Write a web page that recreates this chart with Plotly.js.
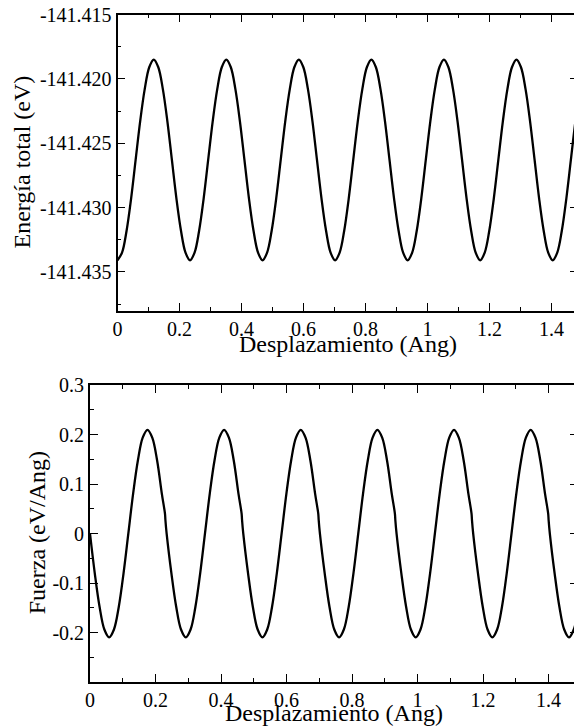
<!DOCTYPE html>
<html>
<head>
<meta charset="utf-8">
<script src="https://cdn.plot.ly/plotly-3.0.1.min.js"></script>
<style>
  html, body { margin: 0; padding: 0; overflow: hidden; background: #fff; }
  #chart { width: 578px; height: 727px; }
  #fontwarm { position: absolute; left: 0; top: 0; visibility: hidden; font-family: 'Liberation Serif'; font-size: 20px; }
</style>
</head>
<body>
<span id="fontwarm">Desplazamiento</span>
<div id="chart"></div>
<script>
// Displacement grid (Ang)
const displacement = [
  0.0000, 0.0146, 0.0293, 0.0439, 0.0585, 0.0731, 0.0878, 0.1024, 0.1170, 0.1316, 0.1463, 0.1609, 0.1755, 0.1901, 0.2048, 0.2194,
  0.2340, 0.2486, 0.2633, 0.2779, 0.2925, 0.3071, 0.3218, 0.3364, 0.3510, 0.3656, 0.3803, 0.3949, 0.4095, 0.4241, 0.4388, 0.4534,
  0.4680, 0.4826, 0.4973, 0.5119, 0.5265, 0.5411, 0.5558, 0.5704, 0.5850, 0.5996, 0.6143, 0.6289, 0.6435, 0.6581, 0.6728, 0.6874,
  0.7020, 0.7166, 0.7313, 0.7459, 0.7605, 0.7751, 0.7898, 0.8044, 0.8190, 0.8336, 0.8483, 0.8629, 0.8775, 0.8921, 0.9068, 0.9214,
  0.9360, 0.9506, 0.9653, 0.9799, 0.9945, 1.0091, 1.0238, 1.0384, 1.0530, 1.0676, 1.0823, 1.0969, 1.1115, 1.1261, 1.1408, 1.1554,
  1.1700, 1.1846, 1.1993, 1.2139, 1.2285, 1.2431, 1.2578, 1.2724, 1.2870, 1.3016, 1.3163, 1.3309, 1.3455, 1.3601, 1.3748, 1.3894,
  1.4040, 1.4186, 1.4333, 1.4479, 1.4625, 1.4771, 1.4918
];

// Total energy (eV)
const energy = [
  -141.4341, -141.4335, -141.4318, -141.4293, -141.4263, -141.4233, -141.4208, -141.4191, -141.4185, -141.4191, -141.4208, -141.4233, -141.4263, -141.4293, -141.4318, -141.4335,
  -141.4341, -141.4335, -141.4318, -141.4293, -141.4263, -141.4233, -141.4208, -141.4191, -141.4185, -141.4191, -141.4208, -141.4233, -141.4263, -141.4293, -141.4318, -141.4335,
  -141.4341, -141.4335, -141.4318, -141.4293, -141.4263, -141.4233, -141.4208, -141.4191, -141.4185, -141.4191, -141.4208, -141.4233, -141.4263, -141.4293, -141.4318, -141.4335,
  -141.4341, -141.4335, -141.4318, -141.4293, -141.4263, -141.4233, -141.4208, -141.4191, -141.4185, -141.4191, -141.4208, -141.4233, -141.4263, -141.4293, -141.4318, -141.4335,
  -141.4341, -141.4335, -141.4318, -141.4293, -141.4263, -141.4233, -141.4208, -141.4191, -141.4185, -141.4191, -141.4208, -141.4233, -141.4263, -141.4293, -141.4318, -141.4335,
  -141.4341, -141.4335, -141.4318, -141.4293, -141.4263, -141.4233, -141.4208, -141.4191, -141.4185, -141.4191, -141.4208, -141.4233, -141.4263, -141.4293, -141.4318, -141.4335,
  -141.4341, -141.4335, -141.4318, -141.4293, -141.4263, -141.4233, -141.4208
];

// Force (eV/Ang) on the same grid
const force = [
  0.0000, -0.0802, -0.1481, -0.1936, -0.2095, -0.1936, -0.1481, -0.0802, 0.0000, 0.0802, 0.1481, 0.1936, 0.2095, 0.1936, 0.1481, 0.0802,
  0.0000, -0.0802, -0.1481, -0.1936, -0.2095, -0.1936, -0.1481, -0.0802, 0.0000, 0.0802, 0.1481, 0.1936, 0.2095, 0.1936, 0.1481, 0.0802,
  0.0000, -0.0802, -0.1481, -0.1936, -0.2095, -0.1936, -0.1481, -0.0802, 0.0000, 0.0802, 0.1481, 0.1936, 0.2095, 0.1936, 0.1481, 0.0802,
  0.0000, -0.0802, -0.1481, -0.1936, -0.2095, -0.1936, -0.1481, -0.0802, 0.0000, 0.0802, 0.1481, 0.1936, 0.2095, 0.1936, 0.1481, 0.0802,
  0.0000, -0.0802, -0.1481, -0.1936, -0.2095, -0.1936, -0.1481, -0.0802, 0.0000, 0.0802, 0.1481, 0.1936, 0.2095, 0.1936, 0.1481, 0.0802,
  0.0000, -0.0802, -0.1481, -0.1936, -0.2095, -0.1936, -0.1481, -0.0802, 0.0000, 0.0802, 0.1481, 0.1936, 0.2095, 0.1936, 0.1481, 0.0802,
  0.0000, -0.0802, -0.1481, -0.1936, -0.2095, -0.1936, -0.1481
];

// Small kinks visible on the descending branches of the force curve
const kinkDisplacement = [0.2290, 0.2302, 0.4630, 0.4642, 0.6970, 0.6982, 0.9310, 0.9322, 1.1650, 1.1662, 1.3990, 1.4002];
const kinkForce        = [0.040,  0.028,  0.040,  0.028,  0.040,  0.028,  0.040,  0.028,  0.040,  0.028,  0.040,  0.028];

// Tick labels and titles
const xTickVals = [0, 0.2, 0.4, 0.6, 0.8, 1, 1.2, 1.4];
const xTickText = ['0', '0.2', '0.4', '0.6', '0.8', '1', '1.2', '1.4'];
const eTickVals = [-141.435, -141.430, -141.425, -141.420, -141.415];
const eTickText = ['-141.435', '-141.430', '-141.425', '-141.420', '-141.415'];
const fTickVals = [-0.2, -0.1, 0, 0.1, 0.2, 0.3];
const fTickText = ['-0.2', '-0.1', '0', '0.1', '0.2', '0.3'];
const xTitle = 'Desplazamiento (Ang)';
const eTitle = 'Energía total (eV)';
const fTitle = 'Fuerza (eV/Ang)';

// merge force grid with kink points (sorted by displacement)
const fPts = displacement.map((x, i) => [x, force[i]])
  .concat(kinkDisplacement.map((x, i) => [x, kinkForce[i]]))
  .sort((a, b) => a[0] - b[0]);

const W = 578, H = 727;
const FAM = 'Liberation Serif';

function axisBase() {
  return {
    showline: true, linecolor: '#000', linewidth: 1.8,
    mirror: 'allticks',
    ticks: 'inside', ticklen: 8, tickwidth: 1.3, tickcolor: '#000',
    showgrid: false, zeroline: false,
    tickfont: { family: FAM, size: 20, color: '#000' },
    fixedrange: true
  };
}
function minorTicks(dt, t0) {
  return { dtick: dt, tick0: t0, ticks: 'inside', ticklen: 4, tickwidth: 1.3, tickcolor: '#000', showgrid: false };
}
const titleFont = { family: FAM, size: 24, color: '#000' };

const line = { color: '#000', width: 2.3, shape: 'spline', smoothing: 1 };

const traces = [
  { x: displacement, y: energy, xaxis: 'x', yaxis: 'y', mode: 'lines', line: line, hoverinfo: 'skip' },
  { x: fPts.map(p => p[0]), y: fPts.map(p => p[1]), xaxis: 'x2', yaxis: 'y2', mode: 'lines', line: line, hoverinfo: 'skip' }
];

const layout = {
  width: W, height: H,
  margin: { l: 0, r: 0, t: 0, b: 0 },
  paper_bgcolor: '#fff', plot_bgcolor: '#fff',
  showlegend: false,
  font: { family: FAM, color: '#000' },
  xaxis: Object.assign(axisBase(), {
    domain: [117.5 / W, 1], range: [0, 1.4855], anchor: 'y',
    tickmode: 'array', tickvals: xTickVals, ticktext: xTickText, minor: minorTicks(0.1, 0)
  }),
  yaxis: Object.assign(axisBase(), {
    domain: [1 - 310.5 / H, 1 - 14.5 / H], range: [-141.438, -141.415], anchor: 'x',
    tickmode: 'array', tickvals: eTickVals, ticktext: eTickText, minor: minorTicks(0.0025, -141.435)
  }),
  xaxis2: Object.assign(axisBase(), {
    domain: [90 / W, 1], range: [0, 1.490], anchor: 'y2',
    tickmode: 'array', tickvals: xTickVals, ticktext: xTickText, minor: minorTicks(0.1, 0)
  }),
  yaxis2: Object.assign(axisBase(), {
    domain: [1 - 681.5 / H, 1 - 385 / H], range: [-0.2986, 0.3], anchor: 'x2',
    tickmode: 'array', tickvals: fTickVals, ticktext: fTickText, minor: minorTicks(0.05, 0)
  }),
  annotations: [
    { text: xTitle, font: titleFont, showarrow: false, xref: 'x domain', x: 0.5, xanchor: 'center',
      yref: 'paper', y: 1 - 344 / H, yanchor: 'middle' },
    { text: xTitle, font: titleFont, showarrow: false, xref: 'x2 domain', x: 0.5, xanchor: 'center',
      yref: 'paper', y: 1 - 713 / H, yanchor: 'middle' },
    { text: eTitle, font: titleFont, showarrow: false, textangle: -90, xref: 'paper', x: 21 / W, xanchor: 'center',
      yref: 'y domain', y: 0.5, yanchor: 'middle' },
    { text: fTitle, font: titleFont, showarrow: false, textangle: -90, xref: 'paper', x: 37 / W, xanchor: 'center',
      yref: 'y2 domain', y: 0.5, yanchor: 'middle' }
  ]
};

function draw() {
  Plotly.newPlot('chart', traces, layout, { displayModeBar: false });
}
if (document.fonts && document.fonts.load) {
  document.fonts.load('20px "Liberation Serif"').then(draw, draw);
} else {
  draw();
}
</script>
</body>
</html>
